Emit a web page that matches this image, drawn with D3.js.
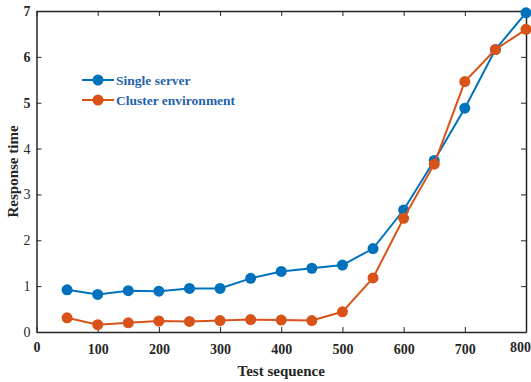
<!DOCTYPE html>
<html><head><meta charset="utf-8">
<script src="https://cdn.jsdelivr.net/npm/d3@7"></script>
<style>body{margin:0;background:#fff}svg{display:block}</style>
</head><body>
<svg id="c" width="531" height="382"></svg>
<script>
const xValues = [50,100,150,200,250,300,350,400,450,500,550,600,650,700,750,800];
const singleServer = [0.92,0.82,0.90,0.89,0.95,0.95,1.17,1.32,1.39,1.46,1.82,2.66,3.74,4.88,6.16,6.96];
const clusterEnv = [0.31,0.16,0.20,0.24,0.23,0.25,0.27,0.26,0.25,0.44,1.18,2.48,3.66,5.46,6.16,6.60];
const xTicks = [0,100,200,300,400,500,600,700,800];
const yTicks = [0,1,2,3,4,5,6,7];
const seriesNames = ["Single server","Cluster environment"];
const colors = ["#0072BD","#D95319"];

const svg = d3.select("#c");
const m = {l:36.5, r:5, t:11, b:50};
const W = 531, H = 382;
const x = d3.scaleLinear().domain([0,800]).range([m.l, W-m.r]);
const y = d3.scaleLinear().domain([0,7]).range([H-m.b, m.t]);
const font = "'Liberation Serif','Times New Roman',serif";

const g = svg.append("g");
const xb = g.append("g").attr("transform",`translate(0,${y(0)})`)
  .call(d3.axisBottom(x).tickValues(xTicks).tickFormat(d3.format("d")).tickSize(-5).tickPadding(12).tickSizeOuter(0));
const xt = g.append("g").attr("transform",`translate(0,${y(7)})`)
  .call(d3.axisTop(x).tickValues(xTicks).tickSize(-5).tickFormat("").tickSizeOuter(0));
const yl = g.append("g").attr("transform",`translate(${x(0)},0)`)
  .call(d3.axisLeft(y).tickValues(yTicks).tickFormat(d3.format("d")).tickSize(-5).tickPadding(6).tickSizeOuter(0));
const yr = g.append("g").attr("transform",`translate(${x(800)},0)`)
  .call(d3.axisRight(y).tickValues(yTicks).tickSize(-5).tickFormat("").tickSizeOuter(0));
[xb,xt,yl,yr].forEach(a=>{
  a.attr("font-family",font);
  a.selectAll("path.domain").attr("stroke","#262626").attr("stroke-width",1.5);
  a.selectAll(".tick line").attr("stroke","#262626").attr("stroke-width",1);
  a.selectAll("text").attr("font-family",font).attr("font-size",14).attr("fill","#262626");
});
xb.selectAll("text").attr("font-weight","bold");
xb.selectAll(".tick").filter(d=>d===800).select("text").attr("dx",-6).attr("dy","0.55em");
xb.selectAll(".tick").filter(d=>d===0).select("text").attr("dy","0.55em");
yl.selectAll("text").attr("font-weight",d=>d>=5?"bold":"normal");

const series = [singleServer, clusterEnv];
series.forEach((vals,i)=>{
  const pts = xValues.map((xv,j)=>[xv,vals[j]]);
  svg.append("path").datum(pts)
    .attr("fill","none").attr("stroke",colors[i]).attr("stroke-width",2)
    .attr("d", d3.line().x(d=>x(d[0])).y(d=>y(d[1])));
  svg.append("g").selectAll("circle").data(pts).join("circle")
    .attr("cx",d=>x(d[0])).attr("cy",d=>y(d[1])).attr("r",5.5).attr("fill",colors[i]);
});

seriesNames.forEach((n,i)=>{
  const ly = 80 + i*20;
  svg.append("line").attr("x1",82).attr("x2",114).attr("y1",ly).attr("y2",ly)
    .attr("stroke",colors[i]).attr("stroke-width",2);
  svg.append("circle").attr("cx",98).attr("cy",ly).attr("r",5.5).attr("fill",colors[i]);
  svg.append("text").attr("x",116).attr("y",ly+4.5).text(n)
    .attr("font-family",font).attr("font-weight","bold").attr("font-size",13.5).attr("fill","#1f63ad");
});

svg.append("text").attr("x",(x(0)+x(800))/2).attr("y",376).attr("text-anchor","middle")
  .attr("font-family",font).attr("font-weight","bold").attr("font-size",15).attr("fill","#262626")
  .text("Test sequence");
svg.append("text").attr("transform",`translate(18,${(y(0)+y(7))/2}) rotate(-90)`).attr("text-anchor","middle")
  .attr("font-family",font).attr("font-weight","bold").attr("font-size",15).attr("fill","#262626")
  .text("Response time");
</script>
</body></html>
